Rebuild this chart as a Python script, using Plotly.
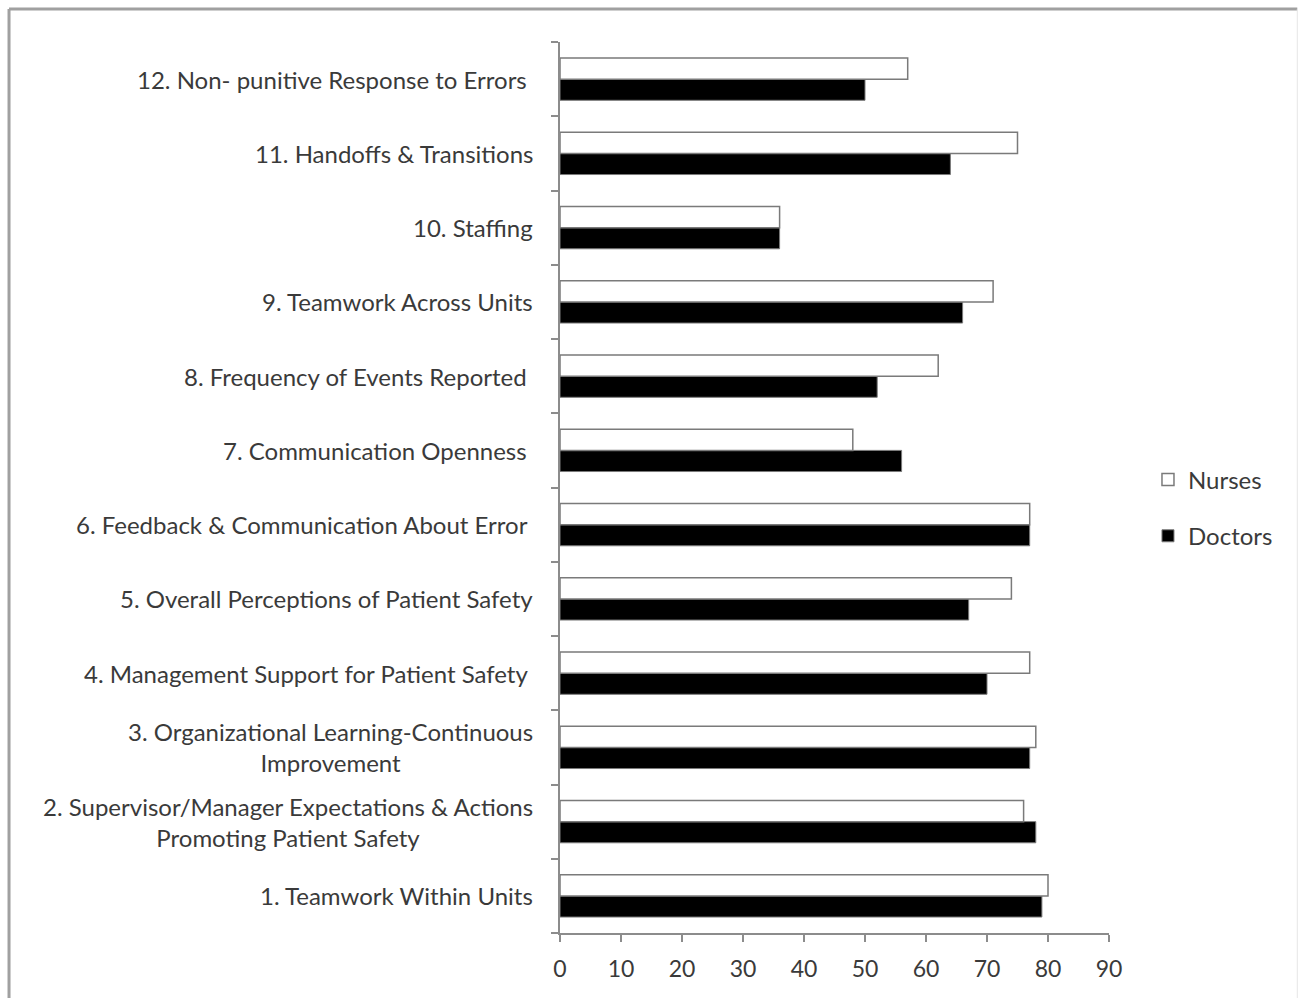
import plotly.graph_objects as go

# Patient-safety culture dimensions, listed bottom (1) to top (12)
categories = ["1", "2", "3", "4", "5", "6", "7", "8", "9", "10", "11", "12"]
labels = [
    "1. Teamwork Within Units",
    "2. Supervisor/Manager Expectations & Actions<br>Promoting Patient Safety",
    "3. Organizational Learning-Continuous<br>Improvement",
    "4. Management Support for Patient Safety\u00a0",
    "5. Overall Perceptions of Patient Safety",
    "6. Feedback & Communication About Error\u00a0",
    "7. Communication Openness\u00a0",
    "8. Frequency of Events Reported\u00a0",
    "9. Teamwork Across Units",
    "10. Staffing",
    "11. Handoffs & Transitions",
    "12. Non- punitive Response to Errors\u00a0",
]
nurses = [80, 76, 78, 77, 74, 77, 48, 62, 71, 36, 75, 57]
doctors = [79, 78, 77, 70, 67, 77, 56, 52, 66, 36, 64, 50]
x_ticks = [0, 10, 20, 30, 40, 50, 60, 70, 80, 90]

FONT = "Lato, 'Open Sans', sans-serif"
TEXT = "#3a3a3a"
AXIS = "#8c8c8c"

fig = go.Figure()
fig.add_trace(go.Bar(
    name="Doctors", y=categories, x=doctors, orientation="h",
    marker=dict(color="black", line=dict(color="#7a7a7a", width=1)),
    legendrank=2, legendgroup="d",
))
fig.add_trace(go.Bar(
    name="Nurses", y=categories, x=nurses, orientation="h",
    marker=dict(color="white", line=dict(color="#7a7a7a", width=1.5)),
    legendrank=1, legendgroup="n",
))

# Category labels: right-aligned against the axis, lines centred in each block
annotations = [
    dict(
        x=-0.045, xref="paper", y=idx, yref="y",
        text=text, showarrow=False, xanchor="right", yanchor="middle",
        align="center", font=dict(family=FONT, size=24, color=TEXT),
    )
    for idx, text in enumerate(labels)
]

fig.update_layout(
    width=1298, height=998,
    margin=dict(l=560, r=189, t=42, b=65),
    paper_bgcolor="white", plot_bgcolor="white",
    barmode="group", bargap=0.43, bargroupgap=0,
    font=dict(family=FONT, size=22, color=TEXT),
    xaxis=dict(
        range=[0, 90], tickvals=x_ticks, showgrid=False, zeroline=False,
        showline=True, linecolor=AXIS, linewidth=1.5,
        ticks="outside", ticklen=7, tickcolor=AXIS, tickwidth=1.5,
        ticklabelstandoff=8,
        tickfont=dict(family=FONT, size=23, color=TEXT),
    ),
    yaxis=dict(
        type="category", categoryorder="array", categoryarray=categories,
        showticklabels=False, showgrid=False, zeroline=False,
        showline=True, linecolor=AXIS, linewidth=1.5,
        ticks="outside", tickson="boundaries", ticklen=7,
        tickcolor=AXIS, tickwidth=1.5,
    ),
    legend=dict(
        x=1.071, y=0.477, xanchor="left", yanchor="middle",
        traceorder="grouped", tracegroupgap=22,
        font=dict(family=FONT, size=24, color=TEXT),
        itemwidth=30, bgcolor="rgba(0,0,0,0)",
    ),
    annotations=annotations,
    showlegend=True,
    shapes=[
        dict(type="line", xref="paper", yref="paper",
             x0=-1.0036, x1=-1.0036, y0=1.037, y1=-0.08,
             line=dict(color="#a0a0a0", width=3)),
        dict(type="line", xref="paper", yref="paper",
             x0=-1.0036, x1=1.343, y0=1.037, y1=1.037,
             line=dict(color="#a0a0a0", width=3)),
        dict(type="line", xref="paper", yref="paper",
             x0=1.343, x1=1.343, y0=1.037, y1=-0.08,
             line=dict(color="#e6e6e6", width=1)),
    ],
)

fig.write_html("out.html")
